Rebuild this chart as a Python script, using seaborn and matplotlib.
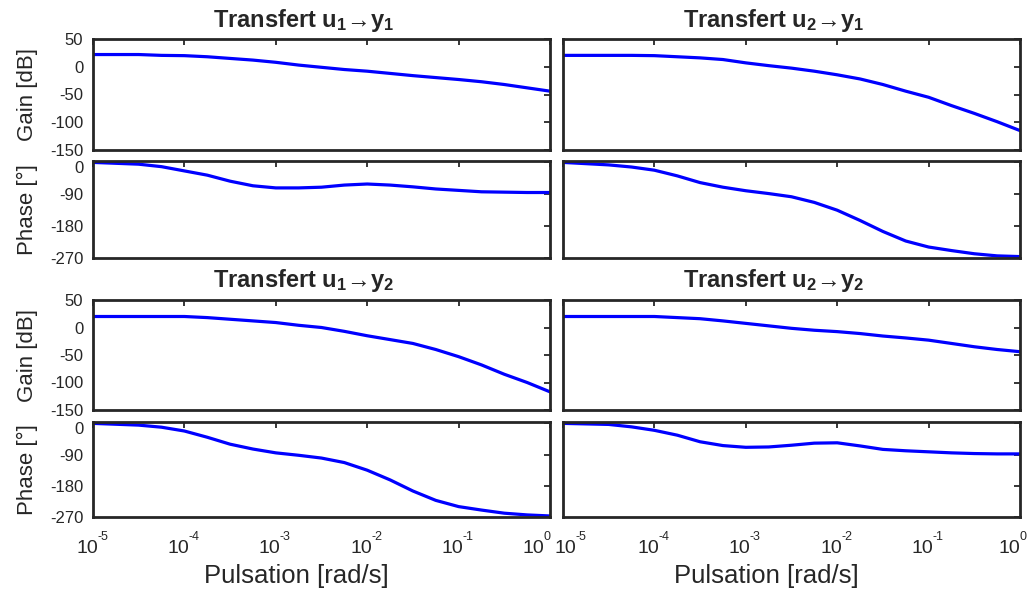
import numpy as np
import matplotlib
matplotlib.use('Agg')
import matplotlib.pyplot as plt
import matplotlib.transforms as mtransforms
import seaborn as sns

# pulsation grid (rad/s), read at quarter decades
pulsation = [1e-5, 3.16e-5, 5.62e-5, 1e-4, 1.78e-4, 3.16e-4, 5.62e-4,
             1e-3, 1.78e-3, 3.16e-3, 5.62e-3, 1e-2, 1.78e-2, 3.16e-2,
             5.62e-2, 0.1, 0.178, 0.316, 0.562, 1.0]

gain_u1_y1 = [22, 22, 20.5, 20, 18, 15, 12, 8, 3, -1, -5, -8, -12, -16,
              -19.5, -23, -27, -32, -38, -44]
phase_u1_y1 = [0, -5, -12, -24, -36, -53, -66, -72, -72, -70, -64, -61,
               -64, -69, -75, -79, -83, -84, -85, -85]

gain_u2_y1 = [20.5, 20.5, 20.5, 20, 18, 16, 13, 7, 2, -2.5, -8, -14.5,
              -22, -32, -44, -55, -70, -84, -99, -115]
phase_u2_y1 = [0, -7, -13, -22, -38, -57, -70, -80, -88, -97, -113, -135,
               -164, -195, -222, -239, -249, -258, -264, -266]

gain_u1_y2 = [20, 20, 20, 20, 18, 15, 12, 9, 4, 0, -7, -15, -22, -29,
              -40, -53, -68, -85, -100, -117]
phase_u1_y2 = [0, -5, -11, -22, -40, -60, -74, -85, -92, -100, -113, -135,
               -163, -195, -222, -240, -250, -259, -264, -267]

gain_u2_y2 = [20, 20, 20, 20, 18, 16, 12, 7.5, 3, -1.5, -5, -7.5, -11,
              -15.5, -19, -23, -29, -35, -40, -44]
phase_u2_y2 = [0, -3, -10, -20, -34, -53, -64, -69, -68, -63, -57, -56,
               -65, -75, -79, -82, -85, -87, -88, -88]

titles = ['Transfert u$_\\mathbf{1}$\u2192y$_\\mathbf{1}$',
          'Transfert u$_\\mathbf{2}$\u2192y$_\\mathbf{1}$',
          'Transfert u$_\\mathbf{1}$\u2192y$_\\mathbf{2}$',
          'Transfert u$_\\mathbf{2}$\u2192y$_\\mathbf{2}$']
decades = [-5, -4, -3, -2, -1, 0]
gain_ticks = [50, 0, -50, -100, -150]
phase_ticks = [0, -90, -180, -270]

sns.set_style('white')
plt.rcParams['font.family'] = ['Liberation Sans', 'DejaVu Sans']
plt.rcParams['mathtext.fontset'] = 'custom'
plt.rcParams['mathtext.rm'] = 'Liberation Sans'
plt.rcParams['mathtext.bf'] = 'Liberation Sans:bold'
plt.rcParams['mathtext.it'] = 'Liberation Sans:italic'
plt.rcParams['axes.unicode_minus'] = False

TXT = '#262626'
W, H = 1030, 592
fig = plt.figure(figsize=(W / 100, H / 100), dpi=100)

def add_ax(x0, x1, y0, y1):
    # pixel box -> figure fraction
    return fig.add_axes([x0 / W, 1 - y1 / H, (x1 - x0) / W, (y1 - y0) / H])

cols = [(93, 550), (563, 1020)]
rows = [((39, 150), (161, 258)), ((300, 410), (422, 517))]
series = [[(gain_u1_y1, phase_u1_y1), (gain_u2_y1, phase_u2_y1)],
          [(gain_u1_y2, phase_u1_y2), (gain_u2_y2, phase_u2_y2)]]

def style(ax):
    ax.set_xscale('log')
    ax.set_xlim(1e-5, 1)
    ax.set_xticks([10.0 ** d for d in decades])
    ax.xaxis.set_minor_locator(matplotlib.ticker.NullLocator())
    for s in ax.spines.values():
        s.set_linewidth(2.0)
        s.set_color(TXT)
    ax.tick_params(direction='in', length=4, width=1.3, color=TXT,
                   top=True, right=True, labelsize=12, labelcolor=TXT,
                   pad=7, labelbottom=False)
    ax.set_xlabel('')
    ax.set_ylabel('')

def matlab_xlabels(ax, col):
    # "10" under the tick with the exponent raised to its right
    trans = mtransforms.blended_transform_factory(ax.transData, ax.transAxes)
    for i, d in enumerate(decades):
        ten_dx, exp_dx = -6, 4
        if i == len(decades) - 1:
            ten_dx, exp_dx = (-17, -6) if col == 0 else (-11, 0)
        elif i == 0 and col == 1:
            ten_dx, exp_dx = 2, 12
        ax.annotate('10', xy=(10.0 ** d, 0), xycoords=trans,
                    xytext=(ten_dx, -23), textcoords='offset pixels',
                    ha='center', va='top', fontsize=14, color=TXT)
        ax.annotate(str(d), xy=(10.0 ** d, 0), xycoords=trans,
                    xytext=(exp_dx, -14), textcoords='offset pixels',
                    ha='left', va='top', fontsize=9, color=TXT)

k = 0
for r in range(2):
    for c in range(2):
        gain, phase = series[r][c]
        (gy0, gy1), (py0, py1) = rows[r]
        axg = add_ax(cols[c][0], cols[c][1], gy0, gy1)
        axp = add_ax(cols[c][0], cols[c][1], py0, py1)
        sns.lineplot(x=pulsation, y=gain, ax=axg, color='#0000ff', linewidth=2.3)
        sns.lineplot(x=pulsation, y=phase, ax=axp, color='#0000ff', linewidth=2.3)
        style(axg)
        style(axp)
        axg.set_ylim(-150, 50)
        axg.set_yticks(gain_ticks)
        axp.set_ylim(-270, 4)
        axp.set_yticks(phase_ticks)
        if r == 1:
            matlab_xlabels(axp, c)
            axp.set_xlabel('Pulsation [rad/s]', fontsize=18.5, color=TXT)
            axp.xaxis.set_label_coords(0.445, -0.50)
        if c == 1:
            axg.tick_params(labelleft=False)
            axp.tick_params(labelleft=False)
        else:
            axg.set_ylabel('Gain [dB]', fontsize=16, color=TXT)
            axp.set_ylabel('Phase [°]', fontsize=16, color=TXT)
            axg.yaxis.set_label_coords(-0.12, 0.5)
            axp.yaxis.set_label_coords(-0.12, 0.5)
            # nudge the top phase label down, off the gain "-150"
            lab = axp.get_yticklabels()[0]
            lab.set_transform(lab.get_transform() +
                              mtransforms.ScaledTranslation(0, -5 / 100, fig.dpi_scale_trans))
        axg.set_title(titles[k], fontsize=17, fontweight='bold', x=0.46,
                      pad=9, color=TXT)
        k += 1

plt.savefig('out.png', dpi=100)
plt.close()
